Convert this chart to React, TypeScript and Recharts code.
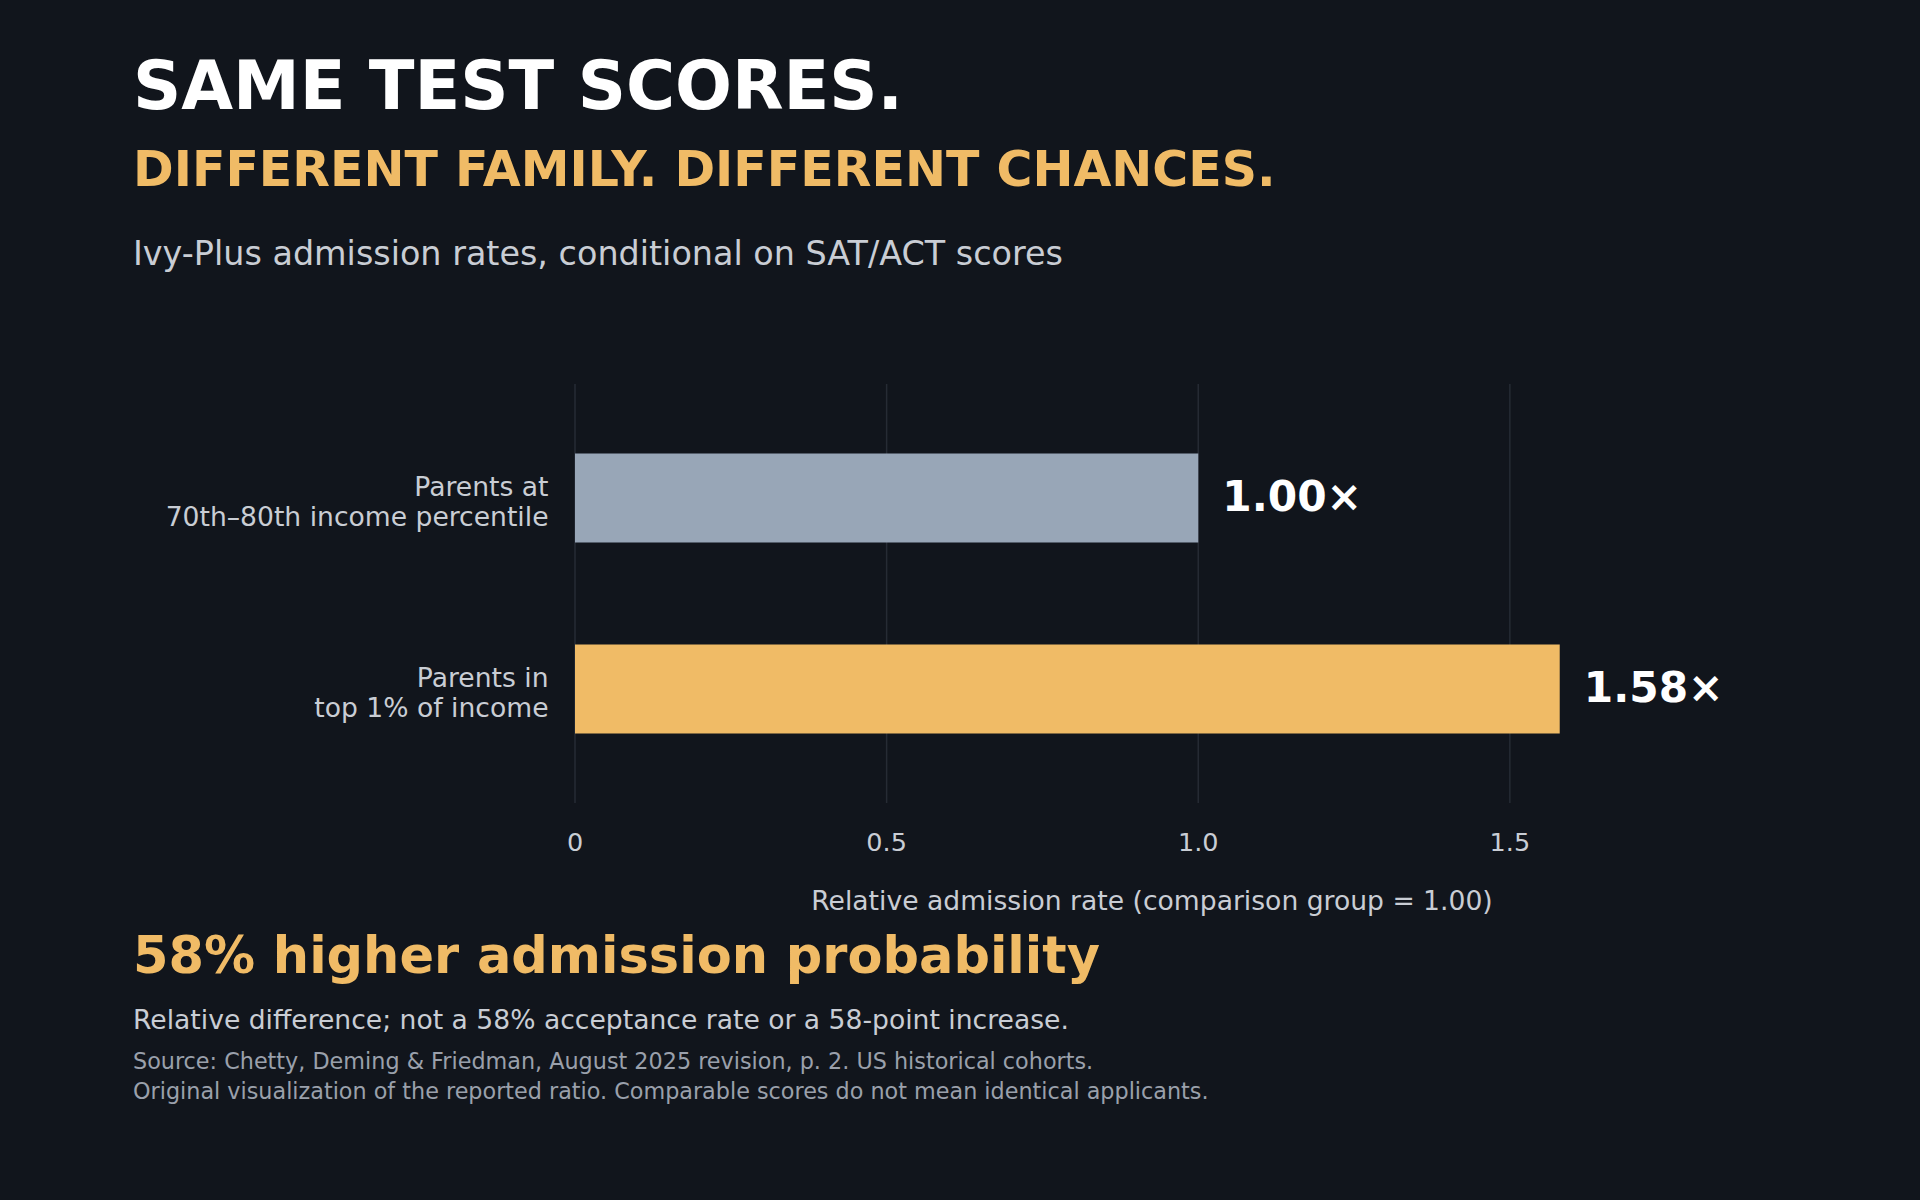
import { Bar, BarChart, CartesianGrid, Cell, LabelList, XAxis, YAxis } from 'recharts';

const FONT = '"DejaVu Sans", sans-serif';
const BG = '#11151c';
const ORANGE = '#f0bb66';
const SLATE = '#98a6b7';
const LIGHT = '#c9cdd4';
const MUTED = '#9aa0ab';

const GROUPS = ['Parents at\n70th–80th income percentile', 'Parents in\ntop 1% of income'];
const RATIOS = [1.0, 1.58];
const X_TICKS = [0, 0.5, 1.0, 1.5];
const X_TICK_LABELS = ['0', '0.5', '1.0', '1.5'];

const data = GROUPS.map((group, i) => ({ group, ratio: RATIOS[i] }));

function XTick({ x, y, payload }: any) {
  const idx = X_TICKS.indexOf(payload.value);
  return (
    <text x={x} y={y + 48} textAnchor="middle" fill={LIGHT} fontSize={25.5} fontFamily={FONT}>
      {idx >= 0 ? X_TICK_LABELS[idx] : payload.value}
    </text>
  );
}

function YTick({ x, y, payload }: any) {
  const lines = String(payload.value).split('\n');
  return (
    <text textAnchor="end" fill={LIGHT} fontSize={26.6} fontFamily={FONT}>
      {lines.map((line, i) => (
        <tspan key={i} x={x - 26.5} y={y - 1.8 + i * 29.7}>
          {line}
        </tspan>
      ))}
    </text>
  );
}

function ValueLabel({ x, y, width, height, value }: any) {
  return (
    <text
      x={x + width + 24}
      y={y + height / 2 + 13}
      fill="#ffffff"
      fontSize={42.3}
      fontWeight="bold"
      fontFamily={FONT}
    >
      {`${Number(value).toFixed(2)}×`}
    </text>
  );
}

export default function App() {
  return (
    <div style={{ position: 'absolute', left: 0, top: 0, width: 1920, height: 1200, background: BG }}>
      <svg width={1920} height={1200} style={{ position: 'absolute', left: 0, top: 0 }}>
        <text x={133} y={109} fill="#ffffff" fontSize={67} fontWeight="bold" fontFamily={FONT}>
          SAME TEST SCORES.
        </text>
        <text x={133} y={186} fill={ORANGE} fontSize={49} fontWeight="bold" fontFamily={FONT}>
          DIFFERENT FAMILY. DIFFERENT CHANCES.
        </text>
        <text x={133} y={265} fill={LIGHT} fontSize={33.4} fontFamily={FONT}>
          Ivy-Plus admission rates, conditional on SAT/ACT scores
        </text>
        <text x={1152} y={910} textAnchor="middle" fill={LIGHT} fontSize={26.6} fontFamily={FONT}>
          Relative admission rate (comparison group = 1.00)
        </text>
        <text x={133} y={973} fill={ORANGE} fontSize={51} fontWeight="bold" fontFamily={FONT}>
          58% higher admission probability
        </text>
        <text x={133} y={1029} fill={LIGHT} fontSize={26.6} fontFamily={FONT}>
          Relative difference; not a 58% acceptance rate or a 58-point increase.
        </text>
        <text x={133} y={1069} fill={MUTED} fontSize={22.3} fontFamily={FONT}>
          Source: Chetty, Deming &amp; Friedman, August 2025 revision, p. 2. US historical cohorts.
        </text>
        <text x={133} y={1099} fill={MUTED} fontSize={22.3} fontFamily={FONT}>
          Original visualization of the reported ratio. Comparable scores do not mean identical applicants.
        </text>
      </svg>
      <div style={{ position: 'absolute', left: 0, top: 0 }}>
        <BarChart
          width={1920}
          height={1200}
          data={data}
          layout="vertical"
          margin={{ top: 384, right: 192, bottom: 337, left: 0 }}
        >
          <CartesianGrid
            horizontal={false}
            stroke="#262b34"
            strokeWidth={1.5}
            verticalValues={X_TICKS}
          />
          <XAxis
            type="number"
            domain={[0, 1.85]}
            ticks={X_TICKS}
            axisLine={false}
            tickLine={false}
            tickSize={0}
            tickMargin={0}
            height={60}
            tick={<XTick />}
            interval={0}
          />
          <YAxis
            type="category"
            dataKey="group"
            width={575}
            axisLine={false}
            tickLine={false}
            tickSize={0}
            tickMargin={0}
            padding={{ top: 18.5, bottom: 18.5 }}
            tick={<YTick />}
            interval={0}
          />
          <Bar dataKey="ratio" barSize={89} isAnimationActive={false}>
            {data.map((d, i) => (
              <Cell key={d.group} fill={i === 0 ? SLATE : ORANGE} />
            ))}
            <LabelList dataKey="ratio" content={<ValueLabel />} />
          </Bar>
        </BarChart>
      </div>
    </div>
  );
}
